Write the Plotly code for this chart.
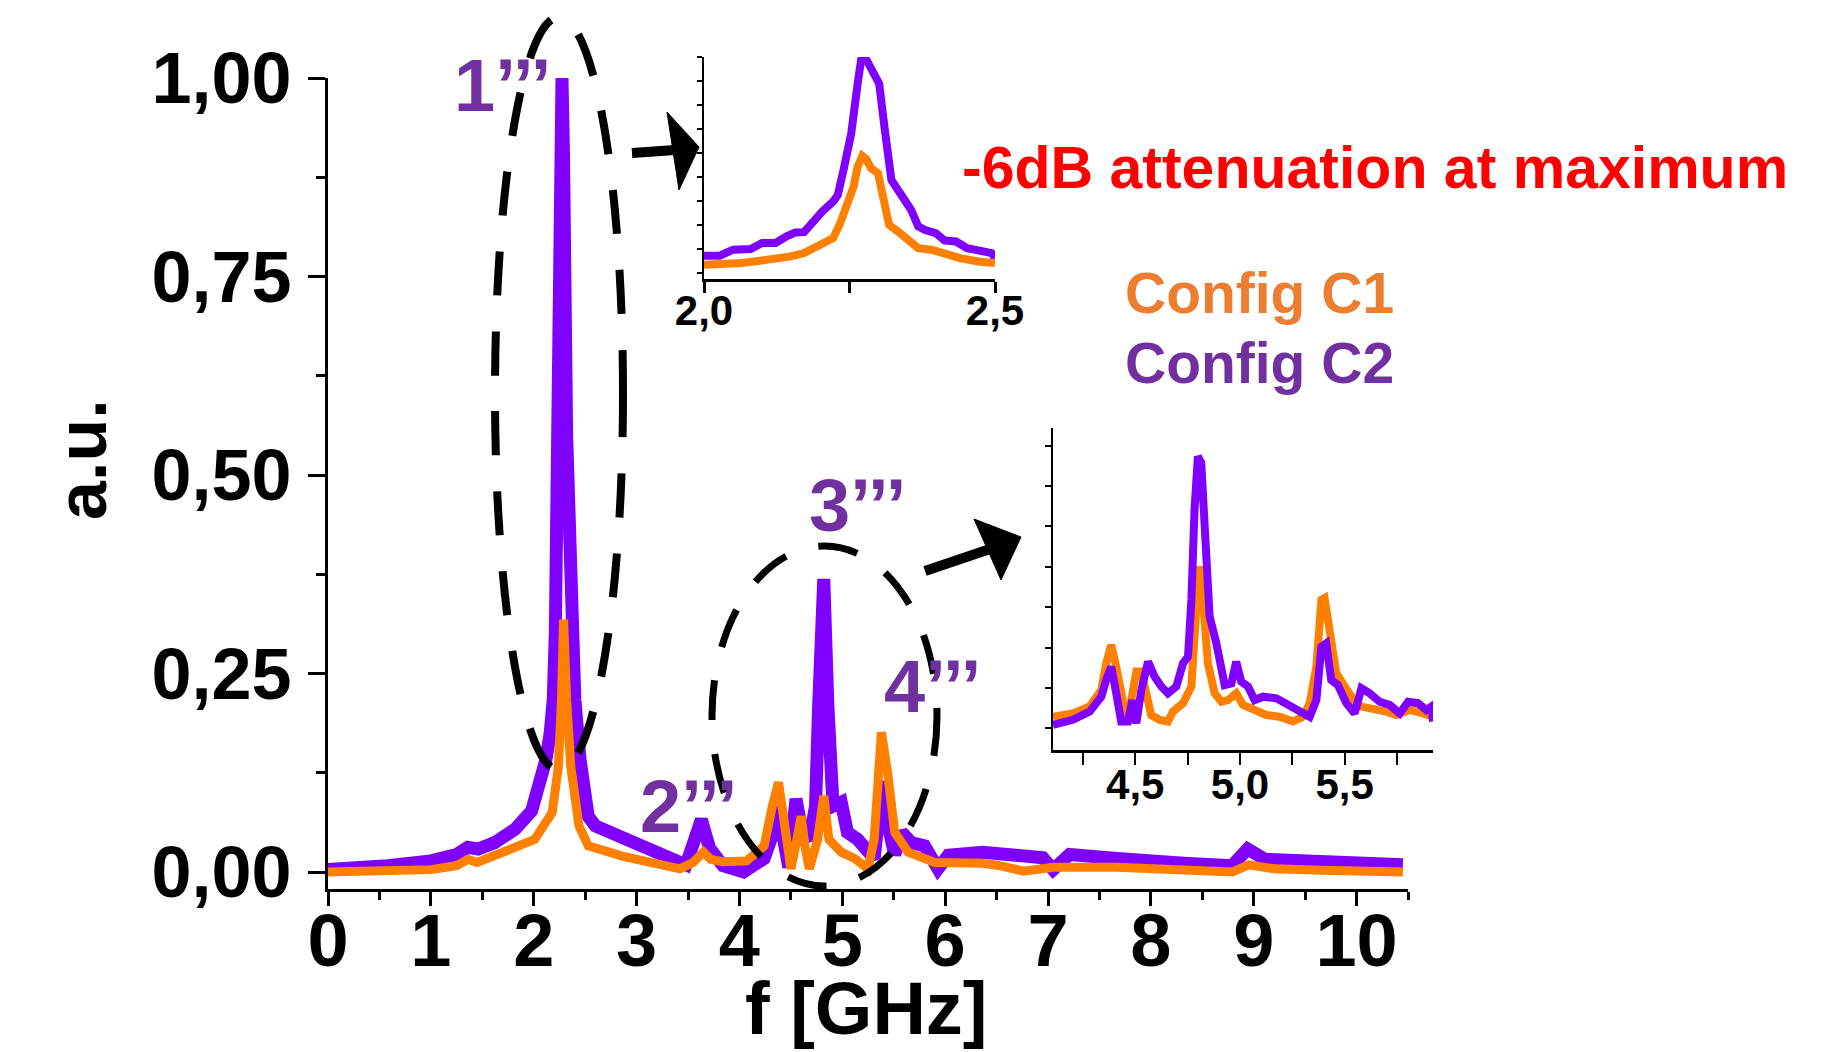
import plotly.graph_objects as go

W, H = 1835, 1052
FONT = "Liberation Sans, Arial, sans-serif"
PURPLE = "#8000FF"
ORANGE = "#FF8000"
LABEL_PURPLE = "#7030A0"
LABEL_ORANGE = "#ED7D31"

# ---------------- main spectra (f in GHz, amplitude in a.u.) ----------------
c2_f = [0.00, 0.30, 0.58, 1.00, 1.25, 1.36, 1.46, 1.62, 1.82, 1.98, 2.06, 2.12, 2.16, 2.19,
        2.21, 2.24, 2.265, 2.275, 2.29, 2.32, 2.37, 2.40, 2.45, 2.50, 2.53, 2.60, 2.79, 3.02,
        3.19, 3.38, 3.48, 3.55, 3.63, 3.71, 3.84, 4.04, 4.24, 4.33, 4.38, 4.43, 4.48, 4.55,
        4.61, 4.68, 4.74, 4.77, 4.82, 4.86, 4.91, 4.99, 5.05, 5.15, 5.25, 5.31, 5.38, 5.42,
        5.46, 5.51, 5.58, 5.67, 5.80, 5.93, 6.03, 6.36, 6.69, 6.95, 7.05, 7.21, 7.67, 8.00,
        8.32, 8.79, 8.94, 9.11, 9.76, 10.45]
c2_a = [0.003, 0.005, 0.008, 0.014, 0.022, 0.031, 0.029, 0.037, 0.054, 0.077, 0.108, 0.142, 0.175, 0.217,
        0.300, 0.550, 0.900, 1.000, 0.900, 0.550, 0.300, 0.217, 0.142, 0.100, 0.070, 0.058, 0.047, 0.033,
        0.024, 0.016, 0.009, 0.035, 0.066, 0.030, 0.008, 0.000, 0.017, 0.050, 0.083, 0.041, 0.006, 0.092,
        0.050, 0.041, 0.083, 0.209, 0.369, 0.209, 0.083, 0.088, 0.050, 0.041, 0.025, 0.017, 0.100, 0.113,
        0.050, 0.022, 0.050, 0.037, 0.033, 0.004, 0.021, 0.025, 0.021, 0.018, 0.003, 0.022, 0.017, 0.016,
        0.011, 0.008, 0.029, 0.016, 0.012, 0.009]

c1_f = [0.00, 0.50, 1.00, 1.25, 1.36, 1.45, 1.62, 1.88, 2.01, 2.18, 2.24, 2.27, 2.29, 2.32,
        2.36, 2.44, 2.53, 2.86, 3.19, 3.42, 3.55, 3.65, 3.72, 3.84, 4.07, 4.24, 4.32, 4.38,
        4.45, 4.50, 4.55, 4.60, 4.64, 4.68, 4.76, 4.82, 4.87, 4.99, 5.12, 5.25, 5.31, 5.38,
        5.44, 5.51, 5.64, 5.90, 6.36, 6.53, 6.76, 7.05, 7.67, 8.00, 8.32, 8.79, 8.95, 9.20,
        9.76, 10.45]
c1_a = [0.000, 0.001, 0.003, 0.008, 0.016, 0.012, 0.020, 0.033, 0.041, 0.075, 0.133, 0.217, 0.318, 0.217,
        0.133, 0.058, 0.033, 0.020, 0.012, 0.004, 0.012, 0.025, 0.016, 0.013, 0.014, 0.033, 0.083, 0.113,
        0.050, 0.004, 0.035, 0.070, 0.030, 0.004, 0.041, 0.096, 0.041, 0.025, 0.017, 0.004, 0.041, 0.176,
        0.126, 0.050, 0.025, 0.012, 0.011, 0.008, 0.001, 0.006, 0.006, 0.004, 0.002, 0.000, 0.009, 0.004,
        0.002, 0.000]

# ---------------- inset 1 (zoom 2.0 - 2.5 GHz, relative units) ----------------
in1_c2_f = [2.000, 2.027, 2.050, 2.080, 2.100, 2.123, 2.142, 2.157, 2.172, 2.191, 2.203, 2.222, 2.230,
            2.241, 2.253, 2.264, 2.270, 2.279, 2.291, 2.301, 2.310, 2.322, 2.337, 2.356, 2.368, 2.379,
            2.398, 2.413, 2.433, 2.452, 2.471, 2.494, 2.500]
in1_c2_a = [0.105, 0.105, 0.132, 0.135, 0.162, 0.162, 0.192, 0.210, 0.211, 0.274, 0.304, 0.349, 0.379,
            0.506, 0.656, 0.880, 0.988, 0.988, 0.933, 0.880, 0.686, 0.446, 0.386, 0.311, 0.237, 0.222,
            0.207, 0.174, 0.169, 0.139, 0.129, 0.117, 0.094]
in1_c1_f = [2.000, 2.034, 2.065, 2.096, 2.126, 2.149, 2.172, 2.188, 2.207, 2.222, 2.234, 2.245, 2.257,
            2.264, 2.272, 2.279, 2.287, 2.299, 2.310, 2.318, 2.333, 2.352, 2.368, 2.391, 2.410, 2.440,
            2.471, 2.500]
in1_c1_a = [0.064, 0.064, 0.072, 0.082, 0.090, 0.102, 0.117, 0.139, 0.166, 0.184, 0.251, 0.326, 0.416,
            0.506, 0.554, 0.539, 0.499, 0.476, 0.356, 0.244, 0.214, 0.177, 0.139, 0.132, 0.117, 0.094,
            0.079, 0.072]

# ---------------- inset 2 (zoom 4.1 - 5.9 GHz, relative units) ----------------
in2_c2_f = [4.107, 4.202, 4.282, 4.338, 4.361, 4.385, 4.409, 4.433, 4.465, 4.486, 4.505, 4.529, 4.561,
            4.592, 4.624, 4.656, 4.696, 4.728, 4.752, 4.768, 4.783, 4.799, 4.815, 4.831, 4.855, 4.887,
            4.927, 4.959, 4.982, 5.006, 5.038, 5.070, 5.110, 5.174, 5.237, 5.301, 5.333, 5.365, 5.389,
            5.412, 5.436, 5.468, 5.508, 5.548, 5.580, 5.619, 5.667, 5.715, 5.763, 5.803, 5.850, 5.890,
            5.914, 5.922]
in2_c2_a = [0.012, 0.030, 0.059, 0.112, 0.171, 0.218, 0.124, 0.024, 0.024, 0.100, 0.018, 0.136, 0.236,
            0.183, 0.148, 0.124, 0.148, 0.230, 0.254, 0.455, 0.773, 0.962, 0.939, 0.655, 0.396, 0.301,
            0.153, 0.159, 0.236, 0.165, 0.148, 0.100, 0.112, 0.106, 0.083, 0.053, 0.041, 0.100, 0.289,
            0.301, 0.171, 0.153, 0.089, 0.053, 0.142, 0.124, 0.094, 0.083, 0.053, 0.094, 0.089, 0.065,
            0.077, 0.024]
in2_c1_f = [4.107, 4.202, 4.282, 4.338, 4.361, 4.385, 4.409, 4.433, 4.457, 4.481, 4.505, 4.529, 4.553,
            4.576, 4.616, 4.656, 4.680, 4.728, 4.768, 4.783, 4.804, 4.823, 4.847, 4.879, 4.911, 4.943,
            4.982, 5.014, 5.062, 5.126, 5.189, 5.253, 5.301, 5.333, 5.365, 5.389, 5.404, 5.428, 5.460,
            5.500, 5.548, 5.580, 5.635, 5.699, 5.747, 5.811, 5.874, 5.922]
in2_c1_a = [0.041, 0.053, 0.077, 0.136, 0.230, 0.295, 0.218, 0.112, 0.035, 0.100, 0.201, 0.201, 0.124,
            0.047, 0.030, 0.024, 0.059, 0.089, 0.148, 0.313, 0.573, 0.455, 0.230, 0.124, 0.094, 0.100,
            0.124, 0.083, 0.065, 0.047, 0.041, 0.024, 0.041, 0.089, 0.218, 0.455, 0.461, 0.360, 0.195,
            0.148, 0.094, 0.077, 0.071, 0.059, 0.047, 0.065, 0.053, 0.041]

# ---------------- tick labels ----------------
x_ticks = [0, 1, 2, 3, 4, 5, 6, 7, 8, 9, 10]
x_tick_text = ["0", "1", "2", "3", "4", "5", "6", "7", "8", "9", "10"]
x_minor = [0.5, 1.5, 2.5, 3.5, 4.5, 5.5, 6.5, 7.5, 8.5, 9.5, 10.5]
y_ticks = [0.0, 0.25, 0.5, 0.75, 1.0]
y_tick_text = ["0,00", "0,25", "0,50", "0,75", "1,00"]
y_minor = [0.125, 0.375, 0.625, 0.875]
in1_x_ticks = [2.0, 2.25, 2.5]
in1_x_text = ["2,0", "", "2,5"]
in1_y_ticks = [0.027 + 0.108 * k for k in range(10)]
in2_x_ticks = [4.25, 4.5, 4.75, 5.0, 5.25, 5.5, 5.75]
in2_x_text = ["", "4,5", "", "5,0", "", "5,5", ""]
in2_y_ticks = [k / 7 for k in range(8)]


def fx(p):
    return p / W


def fy(p):
    return 1 - p / H


fig = go.Figure()
# main
fig.add_trace(go.Scatter(x=c2_f, y=c2_a, mode="lines", line=dict(color=PURPLE, width=13),
                         xaxis="x", yaxis="y", showlegend=False))
fig.add_trace(go.Scatter(x=c1_f, y=c1_a, mode="lines", line=dict(color=ORANGE, width=9),
                         xaxis="x", yaxis="y", showlegend=False))
# inset 1
fig.add_trace(go.Scatter(x=in1_c2_f, y=in1_c2_a, mode="lines", line=dict(color=PURPLE, width=8),
                         xaxis="x2", yaxis="y2", showlegend=False))
fig.add_trace(go.Scatter(x=in1_c1_f, y=in1_c1_a, mode="lines", line=dict(color=ORANGE, width=8),
                         xaxis="x2", yaxis="y2", showlegend=False))
# inset 2
fig.add_trace(go.Scatter(x=in2_c1_f, y=in2_c1_a, mode="lines", line=dict(color=ORANGE, width=8),
                         xaxis="x3", yaxis="y3", showlegend=False))
fig.add_trace(go.Scatter(x=in2_c2_f, y=in2_c2_a, mode="lines", line=dict(color=PURPLE, width=8),
                         xaxis="x3", yaxis="y3", showlegend=False))

xbig = dict(family=FONT, size=74, color="black", weight="bold")
ybig = dict(family=FONT, size=72, color="black", weight="bold")
small = dict(family=FONT, size=42, color="black", weight="bold")

common = dict(showgrid=False, zeroline=False, showline=True, linecolor="black", ticks="outside",
              tickcolor="black", mirror=False, automargin=False)

fig.update_layout(
    template="none",
    width=W, height=H, margin=dict(l=0, r=0, t=0, b=0, pad=0), autosize=False,
    paper_bgcolor="white", plot_bgcolor="rgba(0,0,0,0)",
    xaxis=dict(domain=[fx(328), fx(1408)], range=[0, 10.5], anchor="y",
               tickmode="array", tickvals=x_ticks, ticktext=x_tick_text, tickfont=xbig,
               linewidth=3, tickwidth=3, ticklen=14, ticklabelstandoff=-29,
               minor=dict(tickmode="array", tickvals=x_minor, ticklen=8, tickwidth=3,
                          ticks="outside", tickcolor="black", showgrid=False), **common),
    yaxis=dict(domain=[fy(889), fy(78)], range=[-0.0214, 1.0], anchor="x",
               tickmode="array", tickvals=y_ticks, ticktext=y_tick_text, tickfont=ybig,
               linewidth=3, tickwidth=3, ticklen=17, ticklabelstandoff=2,
               minor=dict(tickmode="array", tickvals=y_minor, ticklen=9, tickwidth=3,
                          ticks="outside", tickcolor="black", showgrid=False), **common),
    xaxis2=dict(domain=[fx(704), fx(995)], range=[2.0, 2.5], anchor="y2",
                tickmode="array", tickvals=in1_x_ticks, ticktext=in1_x_text, tickfont=small,
                linewidth=2.5, tickwidth=2.5, ticklen=11, ticklabelstandoff=-18, **common),
    yaxis2=dict(domain=[fy(279), fy(57)], range=[0, 1.0], anchor="x2",
                tickmode="array", tickvals=in1_y_ticks, showticklabels=False,
                linewidth=2, tickwidth=1.5, ticklen=5, **common),
    xaxis3=dict(domain=[fx(1053), fx(1433)], range=[4.107, 5.922], anchor="y3",
                tickmode="array", tickvals=in2_x_ticks, ticktext=in2_x_text, tickfont=small,
                linewidth=2.5, tickwidth=2, ticklen=12, ticklabelstandoff=-16, **common),
    yaxis3=dict(domain=[fy(750), fy(428)], range=[-0.0767, 1.0626], anchor="x3",
                tickmode="array", tickvals=in2_y_ticks, showticklabels=False,
                linewidth=2, tickwidth=1.5, ticklen=6, **common),
)

ann = []


def text(x, y, s, size, color, xanchor="center", angle=0, yanchor="middle"):
    ann.append(dict(x=fx(x), y=fy(y), xref="paper", yref="paper", text=s, showarrow=False,
                    xanchor=xanchor, yanchor=yanchor, textangle=angle,
                    font=dict(family=FONT, size=size, color=color, weight="bold")))


text(866, 1052, "f [GHz]", 74, "black", yanchor="bottom")
text(82, 460, "a.u.", 70, "black", angle=-90)
text(502, 86, "1’’’", 74, LABEL_PURPLE)
text(688, 806, "2’’’", 74, LABEL_PURPLE)
text(857, 505, "3’’’", 74, LABEL_PURPLE)
text(933, 686, "4’’’", 74, LABEL_PURPLE)
text(960, 168, "-6dB attenuation at maximum", 59, "#FF0000", xanchor="left")
text(1123, 293, "Config C1", 57, LABEL_ORANGE, xanchor="left")
text(1123, 363, "Config C2", 57, LABEL_PURPLE, xanchor="left")
fig.update_layout(annotations=ann)

shapes = []
# dashed ellipses
shapes.append(dict(type="circle", xref="paper", yref="paper", x0=fx(495), x1=fx(623),
                   y0=fy(17), y1=fy(770), line=dict(color="black", width=8, dash="44px,36px"),
                   layer="above"))
shapes.append(dict(type="circle", xref="paper", yref="paper", x0=fx(712), x1=fx(937),
                   y0=fy(546), y1=fy(886), line=dict(color="black", width=7, dash="40px,34px"),
                   layer="above"))
# arrow shafts
shapes.append(dict(type="line", xref="paper", yref="paper", x0=fx(632), y0=fy(153), x1=fx(675),
                   y1=fy(150), line=dict(color="black", width=10)))
shapes.append(dict(type="line", xref="paper", yref="paper", x0=fx(925), y0=fy(571), x1=fx(990),
                   y1=fy(549), line=dict(color="black", width=10)))


def tri(p1, p2, p3):
    return (f"M {fx(p1[0])} {fy(p1[1])} L {fx(p2[0])} {fy(p2[1])} "
            f"L {fx(p3[0])} {fy(p3[1])} Z")


shapes.append(dict(type="path", xref="paper", yref="paper",
                   path=tri((667, 112), (699, 147), (679, 190)),
                   fillcolor="black", line=dict(color="black", width=1)))
shapes.append(dict(type="path", xref="paper", yref="paper",
                   path=tri((974, 519), (1021, 537), (1001, 580)),
                   fillcolor="black", line=dict(color="black", width=1)))
fig.update_layout(shapes=shapes)

fig.write_html("out.html", config={"displayModeBar": False},
               post_script="document.body.style.margin='0';document.body.style.overflow='hidden';")
